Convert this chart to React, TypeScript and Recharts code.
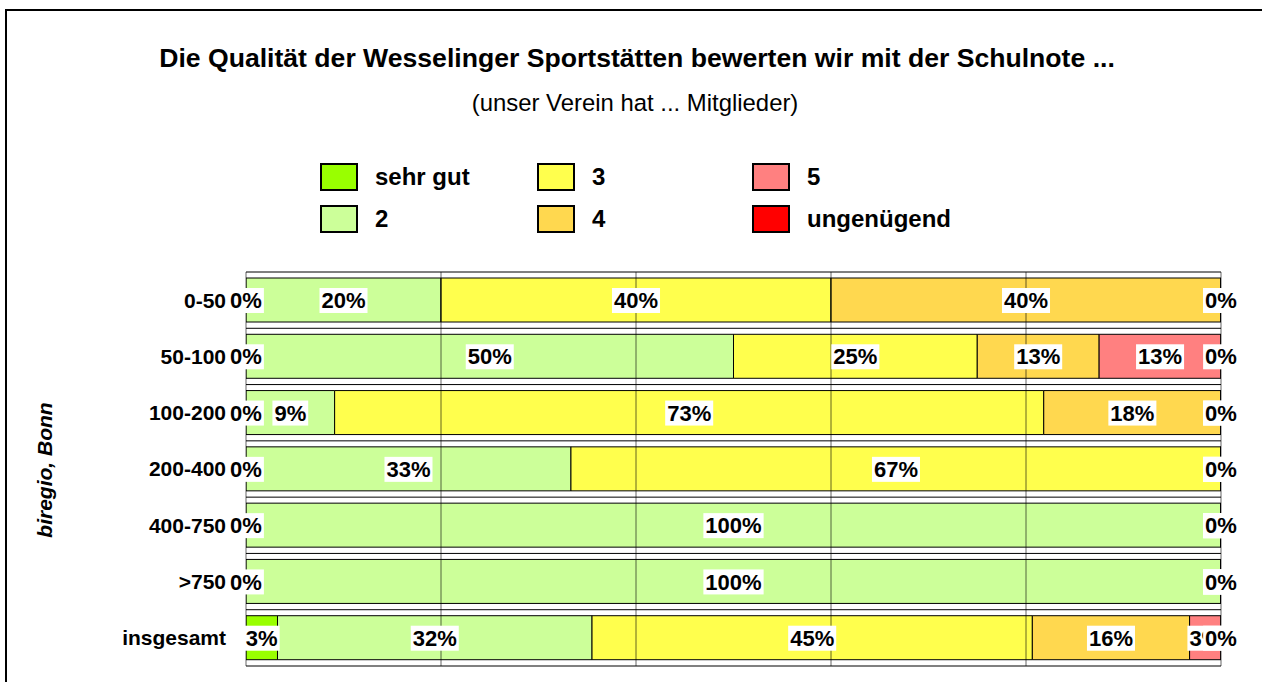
import { BarChart, Bar, XAxis, YAxis, CartesianGrid, ReferenceLine, LabelList } from 'recharts';

const categories = ['0-50', '50-100', '100-200', '200-400', '400-750', '>750', 'insgesamt'];
const sehrGut = [0, 0, 0, 0, 0, 0, 3.23];
const note2 = [20, 50, 9.09, 33.33, 100, 100, 32.26];
const note3 = [40, 25, 72.73, 66.67, 0, 0, 45.16];
const note4 = [40, 12.5, 18.18, 0, 0, 0, 16.13];
const note5 = [0, 12.5, 0, 0, 0, 0, 3.23];
const ungenuegend = [0, 0, 0, 0, 0, 0, 0];
const gridTicks = [0, 20, 40, 60, 80, 100];

const series = [
  { key: 'sehrGut', name: 'sehr gut', color: '#99FF00', values: sehrGut },
  { key: 'note2', name: '2', color: '#CCFF99', values: note2 },
  { key: 'note3', name: '3', color: '#FFFF4D', values: note3 },
  { key: 'note4', name: '4', color: '#FFD84F', values: note4 },
  { key: 'note5', name: '5', color: '#FF8080', values: note5 },
  { key: 'ungenuegend', name: 'ungenügend', color: '#FF0000', values: ungenuegend },
];

const data = categories.map((name, i) => {
  const row: Record<string, string | number> = { name };
  series.forEach((s) => {
    row[s.key] = s.values[i];
  });
  return row;
});

const FONT = 'Arial, "Liberation Sans", sans-serif';
const LABEL_SIZE = 22;

// rough Arial bold widths, for the white box behind the labels
function textWidth(text: string, size: number) {
  let w = 0;
  for (const ch of text) w += ch === '%' ? 0.889 : 0.556;
  return w * size;
}

function ValueLabel(props: any) {
  const vb = props.viewBox ?? props;
  const x = props.x ?? vb.x;
  const y = props.y ?? vb.y;
  const width = props.width ?? vb.width ?? 0;
  const height = props.height ?? vb.height ?? 0;
  const value = props.value;
  if (value == null) return null;
  const text = `${Math.round(Number(value))}%`;
  const cx = x + width / 2;
  const cy = y + height / 2;
  const w = textWidth(text, LABEL_SIZE);
  return (
    <g>
      <rect x={cx - w / 2 - 2} y={cy - 12} width={w + 4} height={25} fill="#fff" />
      <text x={cx} y={cy} dy="0.37em" textAnchor="middle" fontSize={LABEL_SIZE} fontWeight="bold" fontFamily={FONT} fill="#000">
        {text}
      </text>
    </g>
  );
}

function LegendBox() {
  const colX = [0, 537 - 320, 752 - 320];
  return (
    <div style={{ position: 'absolute', left: 320, top: 163 }}>
      {series.map((s, i) => (
        <div
          key={s.key}
          style={{
            position: 'absolute',
            left: colX[Math.floor(i / 2)],
            top: (i % 2) * 42,
            display: 'flex',
            alignItems: 'center',
            height: 28,
            whiteSpace: 'nowrap',
          }}
        >
          <div style={{ width: 38, height: 28, boxSizing: 'border-box', border: '2px solid #000', background: s.color }} />
          <span style={{ marginLeft: 17, fontSize: 24, fontWeight: 'bold' }}>{s.name}</span>
        </div>
      ))}
    </div>
  );
}

export default function App() {
  return (
    <div
      style={{
        position: 'absolute',
        left: 0,
        top: 0,
        width: 1262,
        height: 682,
        overflow: 'hidden',
        background: '#fff',
        fontFamily: FONT,
        color: '#000',
      }}
    >
      <div
        style={{
          position: 'absolute',
          left: 5,
          top: 9,
          width: 2000,
          height: 1200,
          border: '2px solid #000',
          boxSizing: 'border-box',
        }}
      />
      <div style={{ position: 'absolute', left: 0, width: 1274, top: 45, textAlign: 'center', fontSize: 26.6, fontWeight: 'bold', lineHeight: 1 }}>
        Die Qualität der Wesselinger Sportstätten bewerten wir mit der Schulnote ...
      </div>
      <div style={{ position: 'absolute', left: 0, width: 1270, top: 91, textAlign: 'center', fontSize: 23.9, lineHeight: 1 }}>
        (unser Verein hat ... Mitglieder)
      </div>
      <LegendBox />
      <div
        style={{
          position: 'absolute',
          left: 45 - 100,
          top: 470 - 12,
          width: 200,
          height: 24,
          lineHeight: '24px',
          textAlign: 'center',
          transform: 'rotate(-90deg)',
          fontSize: 21,
          fontWeight: 'bold',
          fontStyle: 'italic',
          whiteSpace: 'nowrap',
        }}
      >
        biregio, Bonn
      </div>
      <div style={{ position: 'absolute', left: 0, top: 0 }}>
        <BarChart
          width={1262}
          height={682}
          data={data}
          layout="vertical"
          margin={{ top: 272, right: 41, bottom: 16, left: 46 }}
          barSize={44}
        >
          <CartesianGrid
            vertical={false}
            stroke="#000"
            horizontalCoordinatesGenerator={({ offset }: any) =>
              categories.map((_, i) => offset.top + (i * offset.height) / categories.length).concat(offset.top + offset.height)
            }
          />
          <XAxis type="number" domain={[0, 100]} ticks={gridTicks} allowDataOverflow hide />
          <YAxis
            type="category"
            dataKey="name"
            width={200}
            axisLine={false}
            tickLine={false}
            tickSize={0}
            tickMargin={20}
            tick={{ fontSize: 21, fontWeight: 'bold', fill: '#000', fontFamily: FONT }}
          />
          {series.map((s) => (
            <Bar
              key={s.key}
              dataKey={s.key}
              name={s.name}
              stackId="a"
              fill={s.color}
              stroke="#000"
              strokeWidth={1}
              minPointSize={0.01}
              isAnimationActive={false}
            >
              <LabelList dataKey={s.key} content={ValueLabel} />
            </Bar>
          ))}
          {gridTicks.map((t) => (
            <ReferenceLine key={t} x={t} stroke="#000" strokeOpacity={0.6} />
          ))}
        </BarChart>
      </div>
    </div>
  );
}
